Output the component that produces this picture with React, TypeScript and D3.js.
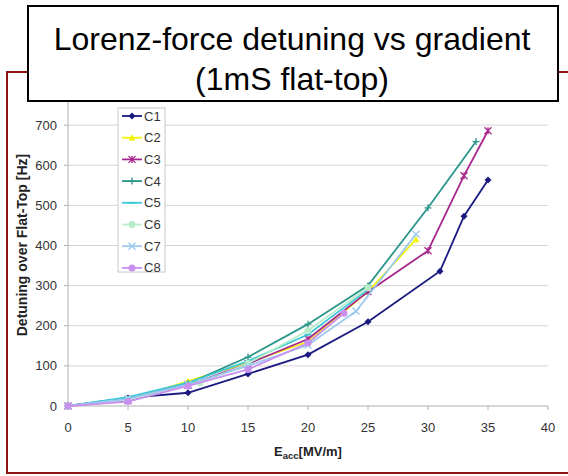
import React from "react";
import * as d3 from "d3";

const seriesNames = ["C1", "C2", "C3", "C4", "C5", "C6", "C7", "C8"];
const seriesColors = ["#1a1a80", "#f2f20a", "#a6268c", "#2a968a", "#3cc8d8", "#b8ecc8", "#9cc8f0", "#c890f0"];
const seriesMarkers = ["diamond", "triangle", "star", "plus", "dash", "circle", "x", "circle"];

const c1X = [0, 5, 10, 15, 20, 25, 31, 33, 35];
const c1Y = [0, 20, 33, 80, 128, 210, 336, 473, 563];
const c2X = [0, 5, 10, 15, 20, 25, 29];
const c2Y = [0, 14, 62, 108, 160, 285, 415];
const c3X = [0, 5, 10, 15, 20, 25, 30, 33, 35];
const c3Y = [0, 14, 52, 105, 167, 285, 387, 574, 686];
const c4X = [0, 5, 10, 15, 20, 25, 30, 34];
const c4Y = [0, 17, 56, 122, 204, 300, 494, 659];
const c5X = [0, 5, 10, 15, 20, 25];
const c5Y = [0, 22, 58, 112, 178, 290];
const c6X = [0, 5, 11, 15, 20, 25];
const c6Y = [0, 15, 58, 106, 188, 295];
const c7X = [0, 5, 10, 15, 20, 24, 29];
const c7Y = [0, 18, 54, 100, 152, 236, 428];
const c8X = [0, 5, 10, 15, 20, 23];
const c8Y = [0, 11, 50, 91, 157, 231];

const seriesX = [c1X, c2X, c3X, c4X, c5X, c6X, c7X, c8X];
const seriesY = [c1Y, c2Y, c3Y, c4Y, c5Y, c6Y, c7Y, c8Y];

const xTicks = [0, 5, 10, 15, 20, 25, 30, 35, 40];
const yTicks = [0, 100, 200, 300, 400, 500, 600, 700];

const titleLines = ["Lorenz-force detuning vs gradient", "(1mS flat-top)"];
const yLabel = "Detuning over Flat-Top [Hz]";

const FONT = "'Liberation Sans', Arial, sans-serif";

function Marker({ type, x, y, color }: { type: string; x: number; y: number; color: string }) {
  const s = 3.5;
  switch (type) {
    case "diamond":
      return <path d={`M${x},${y - s}L${x + s},${y}L${x},${y + s}L${x - s},${y}Z`} fill={color} />;
    case "triangle":
      return <path d={`M${x},${y - s}L${x + s},${y + s * 0.8}L${x - s},${y + s * 0.8}Z`} fill={color} />;
    case "star":
      return (
        <path
          d={`M${x - s},${y - s}L${x + s},${y + s}M${x - s},${y + s}L${x + s},${y - s}M${x},${y - s}L${x},${y + s}`}
          stroke={color}
          strokeWidth={1.3}
        />
      );
    case "plus":
      return <path d={`M${x},${y - s}L${x},${y + s}M${x - s},${y}L${x + s},${y}`} stroke={color} strokeWidth={1.3} />;
    case "dash":
      return <path d={`M${x - s},${y}L${x + s},${y}`} stroke={color} strokeWidth={1.8} />;
    case "x":
      return (
        <path d={`M${x - s},${y - s}L${x + s},${y + s}M${x - s},${y + s}L${x + s},${y - s}`} stroke={color} strokeWidth={1.3} />
      );
    default:
      return <circle cx={x} cy={y} r={3.5} fill={color} />;
  }
}

export default function App() {
  const W = 568;
  const H = 476;
  const x = d3.scaleLinear().domain([0, 40]).range([68, 548]);
  const y = d3.scaleLinear().domain([0, 800]).range([406, 85]);
  const line = d3
    .line<[number, number]>()
    .x((d) => x(d[0]))
    .y((d) => y(d[1]));

  const legendX = 118;
  const legendY = 108;
  const legendStep = 21.7;

  return (
    <svg
      width={W}
      height={H}
      style={{ position: "absolute", left: 0, top: 0, background: "#fff" }}
      fontFamily={FONT}
    >
      <rect x={0} y={0} width={W} height={H} fill="#fff" />
      {/* red frame (right side runs off the canvas) */}
      <rect x={7} y={72} width={580} height={401} fill="none" stroke="#8e1414" strokeWidth={2} />

      {/* gridlines */}
      {yTicks.concat([800]).map((t) =>
        t === 0 ? null : (
          <line key={t} x1={x(0)} x2={x(40)} y1={y(t)} y2={y(t)} stroke="#d4d4d4" strokeWidth={1} />
        )
      )}
      {/* axes */}
      <line x1={x(0)} x2={x(0)} y1={y(0)} y2={y(800)} stroke="#b0b0b0" strokeWidth={1} />
      <line x1={x(0)} x2={x(40)} y1={y(0)} y2={y(0)} stroke="#b0b0b0" strokeWidth={1} />
      {xTicks.map((t) => (
        <line key={t} x1={x(t)} x2={x(t)} y1={y(0)} y2={y(0) + 4} stroke="#b0b0b0" />
      ))}
      {yTicks.map((t) => (
        <line key={t} x1={x(0) - 4} x2={x(0)} y1={y(t)} y2={y(t)} stroke="#b0b0b0" />
      ))}
      {/* tick labels */}
      {yTicks.map((t) => (
        <text key={t} x={57} y={y(t)} dy="0.35em" textAnchor="end" fontSize={13} fill="#333">
          {t}
        </text>
      ))}
      {xTicks.map((t) => (
        <text key={t} x={x(t)} y={427} dy="0.35em" textAnchor="middle" fontSize={13} fill="#333">
          {t}
        </text>
      ))}
      {/* axis titles */}
      <text x={308} y={456} textAnchor="middle" fontSize={13} fontWeight="bold" fill="#222">
        E<tspan fontSize={9.5} dy={3}>acc</tspan>
        <tspan dy={-3}>[MV/m]</tspan>
      </text>
      <text
        transform={`translate(27,245) rotate(-90)`}
        textAnchor="middle"
        fontSize={14}
        fontWeight="bold"
        fill="#222"
      >
        {yLabel}
      </text>

      {/* series */}
      {seriesNames.map((name, i) => {
        const pts: [number, number][] = seriesX[i].map((v, j) => [v, seriesY[i][j]]);
        return (
          <g key={name}>
            <path d={line(pts) || ""} fill="none" stroke={seriesColors[i]} strokeWidth={1.8} />
            {pts.map((p, j) => (
              <Marker key={j} type={seriesMarkers[i]} x={x(p[0])} y={y(p[1])} color={seriesColors[i]} />
            ))}
          </g>
        );
      })}

      {/* legend */}
      <rect x={legendX} y={legendY} width={47} height={164} fill="#fff" stroke="#c8c8c8" strokeWidth={1} />
      {seriesNames.map((name, i) => {
        const cy = legendY + 8 + i * legendStep;
        return (
          <g key={name}>
            <line x1={legendX + 4} x2={legendX + 24} y1={cy} y2={cy} stroke={seriesColors[i]} strokeWidth={1.8} />
            <Marker type={seriesMarkers[i]} x={legendX + 14} y={cy} color={seriesColors[i]} />
            <text x={legendX + 26} y={cy} dy="0.35em" fontSize={13} fill="#333">
              {name}
            </text>
          </g>
        );
      })}

      {/* title box */}
      <rect x={28} y={6} width={530} height={95} fill="#fff" stroke="#000" strokeWidth={2} />
      <text x={292} y={50} textAnchor="middle" fontSize={32} fill="#000">
        {titleLines[0]}
      </text>
      <text x={292} y={90} textAnchor="middle" fontSize={32} fill="#000">
        {titleLines[1]}
      </text>
    </svg>
  );
}
